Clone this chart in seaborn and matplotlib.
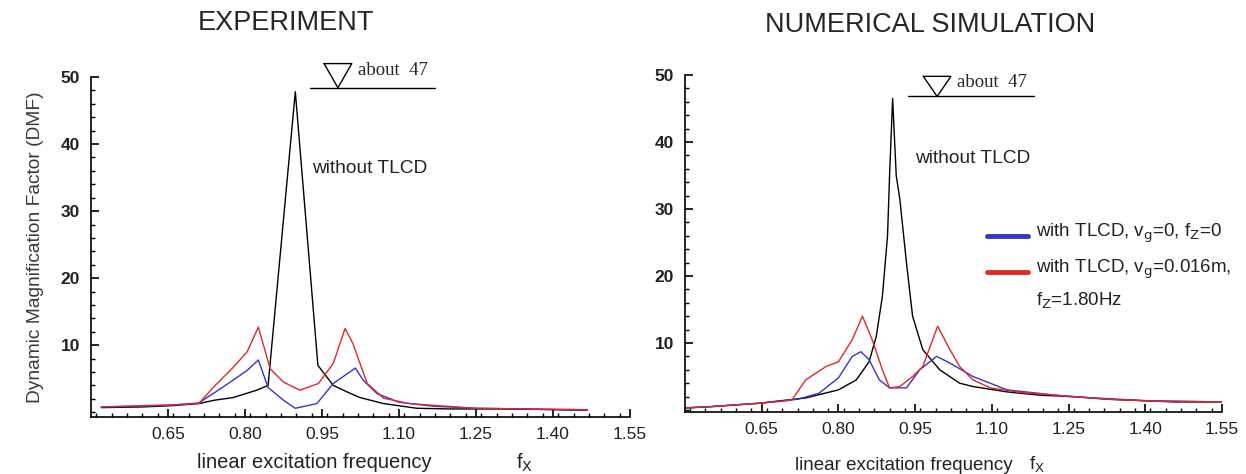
import pandas as pd
import matplotlib.pyplot as plt
import seaborn as sns
from matplotlib.ticker import MultipleLocator, FixedLocator

# ---- EXPERIMENT panel ----
exp_black_f = [0.52, 0.60, 0.66, 0.71, 0.74, 0.777, 0.823, 0.845, 0.898, 0.942, 0.972, 1.0, 1.024, 1.07, 1.135, 1.20, 1.30, 1.40, 1.467]
exp_black_dmf = [0.7, 0.8, 1.0, 1.3, 1.8, 2.2, 3.3, 4.0, 47.8, 7.0, 4.0, 3.0, 2.2, 1.3, 0.6, 0.5, 0.5, 0.4, 0.3]

exp_blue_f = [0.52, 0.60, 0.66, 0.71, 0.738, 0.777, 0.805, 0.826, 0.845, 0.875, 0.898, 0.94, 0.972, 1.015, 1.03, 1.057, 1.10, 1.167, 1.25, 1.35, 1.467]
exp_blue_dmf = [0.8, 0.9, 1.1, 1.4, 2.8, 4.8, 6.3, 7.8, 3.7, 1.8, 0.6, 1.3, 4.3, 6.6, 4.8, 2.8, 1.5, 0.9, 0.6, 0.5, 0.3]

exp_red_f = [0.52, 0.60, 0.66, 0.71, 0.738, 0.777, 0.804, 0.826, 0.849, 0.875, 0.907, 0.943, 0.972, 0.995, 1.01, 1.038, 1.07, 1.12, 1.25, 1.35, 1.467]
exp_red_dmf = [0.8, 1.0, 1.1, 1.3, 3.7, 6.7, 9.0, 12.7, 6.5, 4.5, 3.3, 4.3, 7.3, 12.5, 10.3, 4.3, 2.1, 1.3, 0.6, 0.5, 0.4]

# ---- NUMERICAL SIMULATION panel ----
sim_black_f = [0.50, 0.55, 0.644, 0.736, 0.80, 0.835, 0.86, 0.874, 0.886, 0.896, 0.90, 0.906, 0.913, 0.92, 0.933, 0.945, 0.965, 0.998, 1.037, 1.063, 1.13, 1.195, 1.26, 1.327, 1.457, 1.56]
sim_black_dmf = [0.3, 0.5, 1.0, 1.8, 3.0, 4.5, 7.2, 11, 17, 26, 35, 46.5, 35, 31.5, 22, 14, 9, 6, 4, 3.5, 2.7, 2.2, 2.0, 1.6, 1.2, 1.2]

sim_blue_f = [0.50, 0.55, 0.644, 0.72, 0.762, 0.80, 0.827, 0.844, 0.86, 0.88, 0.90, 0.933, 0.959, 0.992, 1.018, 1.063, 1.13, 1.25, 1.40, 1.56]
sim_blue_dmf = [0.3, 0.5, 1.0, 1.6, 2.5, 4.8, 8.0, 8.7, 7.5, 4.5, 3.3, 3.3, 6.0, 8.0, 7.0, 5.0, 3.0, 2.0, 1.4, 1.2]

sim_red_f = [0.50, 0.55, 0.644, 0.69, 0.709, 0.736, 0.776, 0.80, 0.827, 0.847, 0.866, 0.886, 0.90, 0.92, 0.945, 0.965, 0.994, 1.018, 1.037, 1.063, 1.097, 1.16, 1.26, 1.327, 1.425, 1.56]
sim_red_dmf = [0.3, 0.5, 1.0, 1.3, 1.5, 4.5, 6.5, 7.2, 10.5, 14, 10.5, 6, 3.3, 3.5, 5, 6.5, 12.5, 9, 6.5, 4.5, 3.3, 2.6, 2.0, 1.6, 1.3, 1.2]

x_ticks = [0.65, 0.80, 0.95, 1.10, 1.25, 1.40, 1.55]
x_tick_labels = ['0.65', '0.80', '0.95', '1.10', '1.25', '1.40', '1.55']
y_ticks = [10, 20, 30, 40, 50]

colors = {'black': 'black', 'blue': '#3434cc', 'red': '#e02828'}


def make_df(black_f, black_y, blue_f, blue_y, red_f, red_y):
    parts = []
    for name, f, y in [('black', black_f, black_y), ('blue', blue_f, blue_y), ('red', red_f, red_y)]:
        parts.append(pd.DataFrame({'f': f, 'dmf': y, 'series': name}))
    return pd.concat(parts, ignore_index=True)


exp_df = make_df(exp_black_f, exp_black_dmf, exp_blue_f, exp_blue_dmf, exp_red_f, exp_red_dmf)
sim_df = make_df(sim_black_f, sim_black_dmf, sim_blue_f, sim_blue_dmf, sim_red_f, sim_red_dmf)

sns.set_theme(style="white")
plt.rcParams['font.family'] = ['Liberation Sans', 'DejaVu Sans']

W, H = 1246, 474
fig = plt.figure(figsize=(W / 100, H / 100), dpi=100)
ax1 = fig.add_axes([91 / W, 57 / H, 539 / W, 340 / H])
ax2 = fig.add_axes([685 / W, 62 / H, 537 / W, 337 / H])

for ax, df, ylo in [(ax1, exp_df, -0.7), (ax2, sim_df, -0.3)]:
    sns.lineplot(data=df, x='f', y='dmf', hue='series', palette=colors,
                 sort=False, estimator=None, legend=False, lw=1.0, ax=ax)
    ax.set_xlim(0.5, 1.55)
    ax.set_ylim(ylo, 50)
    for s in ['top', 'right']:
        ax.spines[s].set_visible(False)
    for s in ['left', 'bottom']:
        ax.spines[s].set_color('black')
        ax.spines[s].set_linewidth(1.2)
    ax.xaxis.set_major_locator(FixedLocator(x_ticks))
    ax.set_xticklabels(x_tick_labels, fontsize=12.5, color='#222222')
    ax.xaxis.set_minor_locator(MultipleLocator(0.03))
    ax.yaxis.set_major_locator(FixedLocator(y_ticks))
    ax.yaxis.set_minor_locator(MultipleLocator(2))
    ax.set_yticklabels([str(v) for v in y_ticks], fontsize=12.5, fontweight='bold', color='#222222')
    ax.tick_params(axis='both', which='major', direction='in', length=6, width=1.2,
                   color='black', bottom=True, left=True)
    ax.tick_params(axis='both', which='minor', direction='in', length=3, width=1,
                   color='black', bottom=True, left=True)
    ax.tick_params(axis='x', pad=7)
    ax.tick_params(axis='y', pad=8)
    ax.set_xlabel('')
    ax.set_ylabel('')
    ax.set_facecolor('white')

ax1.set_ylabel('Dynamic Magnification Factor (DMF)', fontsize=13.8, color='#3a3a3a', labelpad=12)

# axis labels
fig.text(197 / W, 1 - 463 / H, 'linear excitation frequency', fontsize=14.5, va='center', color='#222222')
fig.text(516 / W, 1 - 463 / H, 'f$_\\mathrm{X}$', fontsize=14.5, va='center', color='#222222')
fig.text(795 / W, 1 - 465 / H, 'linear excitation frequency', fontsize=13.5, va='center', color='#222222')
fig.text(1029 / W, 1 - 465 / H, 'f$_\\mathrm{X}$', fontsize=13.5, va='center', color='#222222')

# annotations
ax1.text(0.931, 36.3, 'without TLCD', fontsize=13.8, color='#222222', va='center')
ax2.text(0.95, 37.6, 'without TLCD', fontsize=13.8, color='#222222', va='center')


def about_marker(ax, x0, x1, xt, ytop, yline, ytxt):
    ax.plot([x0, x1], [yline, yline], color='black', lw=1.0)
    ax.plot([xt - 0.027, xt + 0.027, xt, xt - 0.027], [ytop, ytop, yline, ytop], color='black', lw=1.0)
    ax.text(xt + 0.039, ytxt, 'about  47', family='Liberation Serif', fontsize=13.5, va='center')


about_marker(ax1, 0.927, 1.17, 0.981, 52.0, 48.4, 51.0)
about_marker(ax2, 0.936, 1.183, 0.993, 49.8, 46.8, 48.9)
for ax in (ax1, ax2):
    for ln in ax.lines[-2:]:
        ln.set_clip_on(False)
    ax.texts[-1].set_clip_on(False)

# legend
fig.add_artist(plt.Line2D([987 / W, 1028 / W], [1 - 236 / H, 1 - 236 / H], color=colors['blue'], lw=3.5))
fig.add_artist(plt.Line2D([987 / W, 1028 / W], [1 - 272 / H, 1 - 272 / H], color=colors['red'], lw=3.5))
fig.text(1036 / W, 1 - 233 / H, 'with TLCD, v$_\\mathrm{g}$=0, f$_\\mathrm{Z}$=0', fontsize=13.5, va='center', color='#222222')
fig.text(1036 / W, 1 - 269 / H, 'with TLCD, v$_\\mathrm{g}$=0.016m,', fontsize=13.5, va='center', color='#222222')
fig.text(1036 / W, 1 - 301 / H, 'f$_\\mathrm{Z}$=1.80Hz', fontsize=13.5, va='center', color='#222222')

# titles
fig.text(286 / W, 1 - 23 / H, 'EXPERIMENT', fontsize=19.5, ha='center', va='center')
fig.text(930 / W, 1 - 25 / H, 'NUMERICAL SIMULATION', fontsize=19.5, ha='center', va='center')

fig.savefig('out.png', dpi=100, facecolor='white')
